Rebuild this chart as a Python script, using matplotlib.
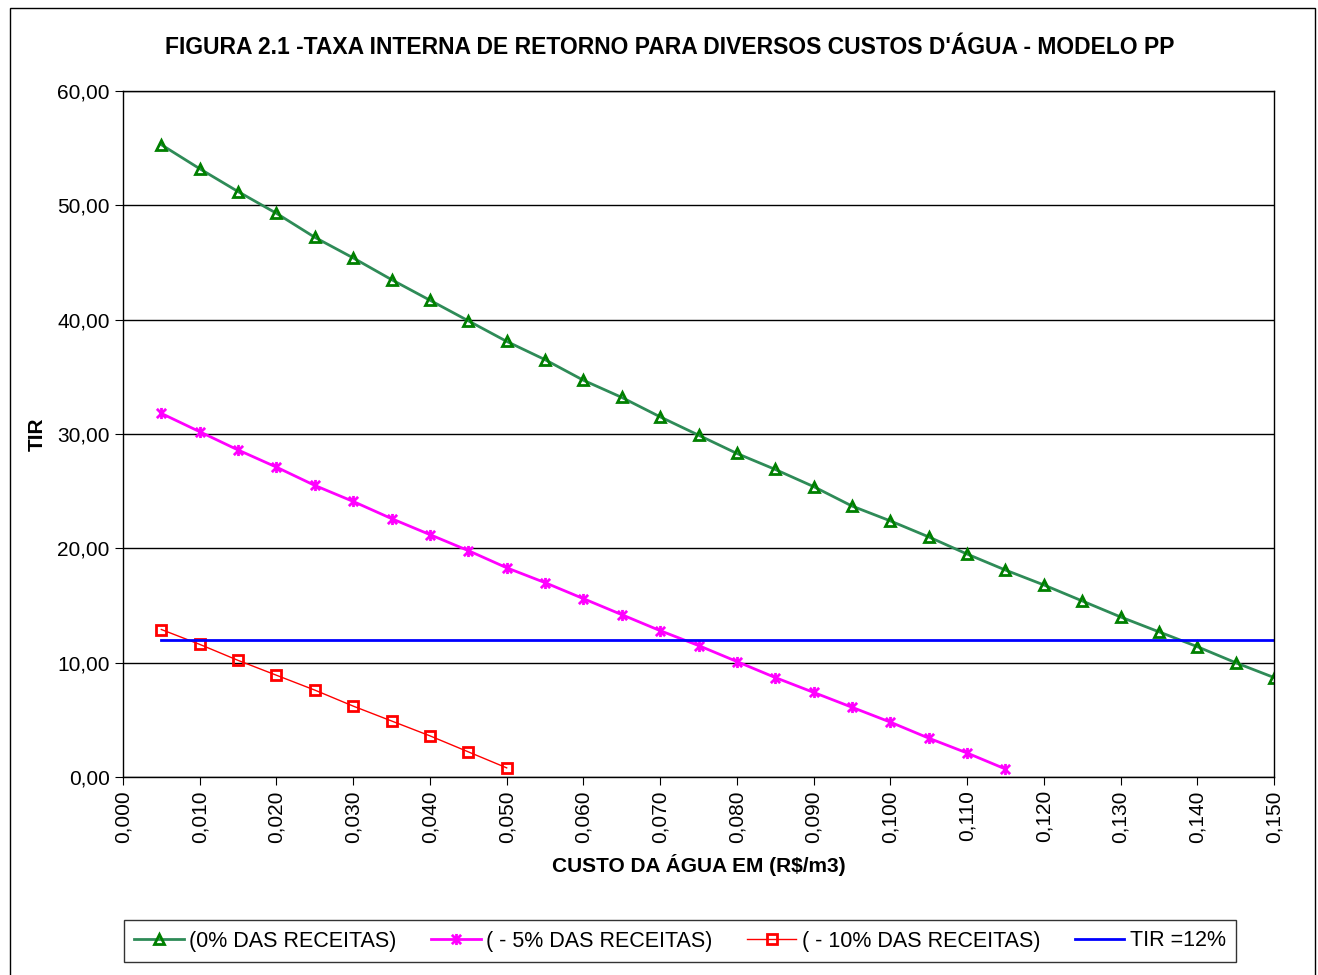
import matplotlib.pyplot as plt
from matplotlib.patches import Rectangle
from matplotlib.path import Path
from matplotlib.ticker import FuncFormatter, MultipleLocator

plt.rcParams['font.family'] = ['Liberation Sans', 'DejaVu Sans']

custo = [0.005 * (i + 1) for i in range(30)]

tir_0 = [55.3, 53.2, 51.2, 49.3, 47.2, 45.4, 43.5, 41.7, 39.9, 38.1,
         36.5, 34.7, 33.2, 31.5, 29.9, 28.3, 26.9, 25.4, 23.7, 22.4,
         21.0, 19.5, 18.1, 16.8, 15.4, 14.0, 12.7, 11.4, 10.0, 8.7]
tir_5 = [31.8, 30.2, 28.6, 27.1, 25.5, 24.1, 22.6, 21.2, 19.8, 18.3,
         17.0, 15.6, 14.2, 12.8, 11.5, 10.1, 8.7, 7.4, 6.1, 4.8,
         3.4, 2.1, 0.7]
tir_10 = [12.9, 11.6, 10.2, 8.9, 7.6, 6.2, 4.9, 3.6, 2.2, 0.8]
tir_ref = [12.0] * 30

labels = ['(0% DAS RECEITAS)', '( - 5% DAS RECEITAS)',
          '( - 10% DAS RECEITAS)', 'TIR =12%']

# asterisk marker like Excel's (x with a vertical bar)
star = Path([(-1, -1), (1, 1), (-1, 1), (1, -1), (0, -1.2), (0, 1.2)],
            [Path.MOVETO, Path.LINETO, Path.MOVETO, Path.LINETO, Path.MOVETO, Path.LINETO])

fig = plt.figure(figsize=(13.18, 9.75), dpi=100)
ax = fig.add_axes([123 / 1318, 1 - 777 / 975, 1151 / 1318, 686 / 975])

ax.plot(custo, tir_0, color='#2e8b57', lw=2, marker='^', ms=7,
        mfc='none', mec='green', mew=2, label=labels[0])
ax.plot(custo[:len(tir_5)], tir_5, color='magenta', lw=2, marker=star, ms=8,
        mfc='none', mec='magenta', mew=2, label=labels[1])
ax.plot(custo[:len(tir_10)], tir_10, color='red', lw=1, marker='s', ms=7,
        mfc='none', mec='red', mew=2, label=labels[2])
ax.plot(custo, tir_ref, color='blue', lw=2, label=labels[3])

ax.set_xlim(0, 0.150)
ax.set_ylim(0, 60)
ax.xaxis.set_major_locator(MultipleLocator(0.01))
ax.yaxis.set_major_locator(MultipleLocator(10))
ax.xaxis.set_major_formatter(FuncFormatter(lambda v, p: f'{v:.3f}'.replace('.', ',')))
ax.yaxis.set_major_formatter(FuncFormatter(lambda v, p: f'{v:.2f}'.replace('.', ',')))
ax.tick_params(axis='x', labelrotation=90, labelsize=15, length=6, direction='out')
ax.tick_params(axis='y', labelsize=15, length=6, direction='out')
ax.grid(axis='y', color='black', lw=1)
ax.set_axisbelow(True)
for s in ax.spines.values():
    s.set_linewidth(1)

ax.set_xlabel('CUSTO DA ÁGUA EM (R$/m3)', fontsize=15, fontweight='bold', labelpad=8)
ax.set_ylabel('TIR', fontsize=15, fontweight='bold')
ax.yaxis.set_label_coords((47 - 123) / 1151, (777 - 434) / 686)
fig.text(670 / 1318, 1 - 48 / 975, "FIGURA 2.1 -TAXA INTERNA DE RETORNO PARA DIVERSOS CUSTOS D'ÁGUA - MODELO PP",
         ha='center', va='center', fontsize=16.5, fontweight='bold')

leg = fig.legend(loc='center', bbox_to_anchor=(680 / 1318, 1 - 941 / 975), ncol=4,
                 fontsize=15.5, frameon=True, fancybox=False, edgecolor='black',
                 handlelength=2.3, handletextpad=0.25, columnspacing=1.6,
                 borderpad=0.5)
leg.get_frame().set_linewidth(1)

fig.patches.append(Rectangle((10 / 1318, -0.02), 1305 / 1318, 1 - 8 / 975 + 0.02,
                             transform=fig.transFigure, fill=False,
                             edgecolor='black', lw=1))

fig.savefig('out.png', dpi=100)
